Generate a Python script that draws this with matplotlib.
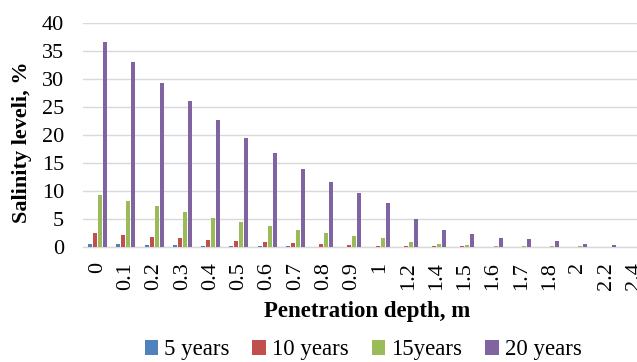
import matplotlib
matplotlib.use("Agg")
import matplotlib.pyplot as plt
import numpy as np

depths = ["0", "0.1", "0.2", "0.3", "0.4", "0.5", "0.6", "0.7", "0.8", "0.9",
          "1", "1.2", "1.4", "1.5", "1.6", "1.7", "1.8", "2", "2.2", "2.4"]
years_5 = [0.55, 0.45, 0.35, 0.25, 0.15, 0.1, 0.06, 0.04, 0.02, 0.01,
           0.01, 0, 0, 0, 0, 0, 0, 0, 0, 0]
years_10 = [2.4, 2.1, 1.8, 1.5, 1.25, 1.0, 0.8, 0.6, 0.4, 0.3,
            0.2, 0.12, 0.06, 0.04, 0.02, 0.01, 0.01, 0, 0, 0]
years_15 = [9.3, 8.2, 7.2, 6.2, 5.2, 4.4, 3.7, 3.0, 2.4, 1.9,
            1.5, 0.9, 0.5, 0.3, 0.2, 0.12, 0.08, 0.04, 0.02, 0]
years_20 = [36.7, 33.0, 29.4, 26.0, 22.7, 19.5, 16.8, 14.0, 11.6, 9.6,
            7.8, 4.9, 3.0, 2.3, 1.6, 1.3, 1.0, 0.55, 0.25, 0.05]

series = [("5 years", years_5, "#4F81BD"),
          ("10 years", years_10, "#C0504D"),
          ("15years", years_15, "#9BBB59"),
          ("20 years", years_20, "#8064A2")]

plt.rcParams["font.family"] = ["Liberation Serif", "DejaVu Serif"]

fig = plt.figure(figsize=(6.37, 3.62), dpi=100)
ax = fig.add_axes([83.4 / 637, (362 - 246.7) / 362, 565 / 637, (246.7 - 23.3) / 362])

x = np.arange(len(depths))
w = 0.142
step = 0.177
for i, (name, vals, col) in enumerate(series):
    ax.bar(x + (i - 1.5) * step, vals, width=w, color=col, label=name, zorder=3)

ax.set_xlim(-0.5, len(depths) - 0.5)
ax.set_ylim(0, 40)
ax.set_yticks(range(0, 41, 5))
ax.set_xticks(x)
ax.set_xticklabels(depths, rotation=90, fontsize=16)
ax.tick_params(axis="y", labelsize=16, length=0, pad=14)
ax.tick_params(axis="x", length=0, pad=11)
ax.grid(axis="y", color="#D9D9D9", linewidth=1.0, zorder=0)
for s in ["top", "right", "left"]:
    ax.spines[s].set_visible(False)
ax.spines["bottom"].set_color("#D9D9D9")
ax.spines["bottom"].set_linewidth(1.0)

fig.text(22 / 637, 1 - 142 / 362, "Salinity leveli, %", fontsize=16,
         fontweight="bold", rotation=90, ha="center", va="center")
fig.text(367 / 637, 1 - 311 / 362, "Penetration depth, m", fontsize=16.5,
         fontweight="bold", ha="center", va="center")

fig.legend(loc="center", bbox_to_anchor=(363 / 637, 1 - 350 / 362), ncol=4,
           fontsize=16.5, frameon=False, handlelength=0.6, handleheight=0.6,
           handletextpad=0.25, columnspacing=1.0, borderaxespad=0)

fig.savefig("out.png", dpi=100)
